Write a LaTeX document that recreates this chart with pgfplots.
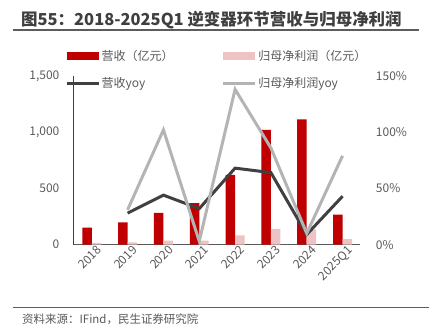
\documentclass[border=0pt]{standalone}
\usepackage{pgfplots}
\pgfplotsset{compat=1.18}
\usepackage{fontspec}
\setmainfont{Noto Sans CJK SC}
\definecolor{barred}{HTML}{C00000}
\definecolor{barpink}{HTML}{EDC3C3}
\definecolor{ldark}{HTML}{404040}
\definecolor{llight}{HTML}{B4B4B4}
\definecolor{txt}{HTML}{595959}
\definecolor{ttl}{HTML}{3F3F3F}

\pgfplotstableread{
x rev np
0 151 15
1 198 20
2 282 35
3 370 35
4 621 82
5 1021 140
6 1113 135
7 266 50
}\bars
\pgfplotstableread{
x ryoy npyoy
1 28 31
2 44 102
3 32 3
4 68 138
5 64 86
6 9 10
7 43 79
}\lines

\begin{document}
\begin{tikzpicture}[x=1bp,y=1bp]
\path (0,0) rectangle (430,336);
% title
\node[anchor=west, inner sep=0pt, text=ttl, font=\fontsize{16.5bp}{18bp}\selectfont\bfseries] at (21,316) {图55：2018-2025Q1 逆变器环节营收与归母净利润};
\draw[line width=1.3bp, color=ttl!85] (13,306) -- (420,306);
% footer
\draw[line width=1.3bp, color=ttl!85] (13,28.3) -- (430,28.3);
\node[anchor=west, inner sep=0pt, text=txt, font=\fontsize{11.5bp}{13bp}\selectfont] at (22,16) {资料来源：IFind，民生证券研究院};

\begin{axis}[
  at={(74bp,91bp)}, anchor=south west,
  scale only axis, width=287bp, height=169bp,
  xmin=-0.5, xmax=7.5, ymin=0, ymax=1500,
  axis x line*=bottom, axis y line*=left,
  x axis line style={color=txt, line width=1bp},
  y axis line style={color=ldark, line width=1bp},
  axis line style={-},
  xtick={0,...,7},
  xticklabels={2018,2019,2020,2021,2022,2023,2024,2025Q1},
  ytick={0,500,1000,1500},
  major tick length=0pt,
  tick style={draw=none},
  /pgf/number format/assume math mode=true,
  /pgf/number format/1000 sep={,},
  ticklabel style={text=txt, font=\fontsize{12bp}{13bp}\selectfont},
  yticklabel style={xshift=-11bp},
  xticklabel style={rotate=45, anchor=north east, inner sep=1bp, xshift=4bp, yshift=-2bp},
  legend columns=2,
  legend cell align=left,
  legend style={draw=none, fill=none, at={(-0.031,1.16)}, anchor=north west,
    font=\fontsize{12bp}{13bp}\selectfont, text=txt, inner sep=0pt, row sep=12bp,
    /tikz/every even column/.append style={column sep=47bp},
    nodes={inner sep=1.5bp}},
]
\addplot[ybar, bar width=9.5bp, bar shift=-4.75bp, fill=barred, draw=none,
  legend image code/.code={\fill[barred] (0bp,-4bp) rectangle (32bp,4bp);}]
  table[x=x, y=rev] {\bars};
\addlegendentry{营收（亿元）}
\addplot[ybar, bar width=9.5bp, bar shift=4.75bp, fill=barpink, draw=none,
  legend image code/.code={\fill[barpink] (0bp,-4bp) rectangle (32bp,4bp);}]
  table[x=x, y=np] {\bars};
\addlegendentry{归母净利润（亿元）}
\addlegendimage{color=ldark, line width=3bp, legend image code/.code={\draw[ldark, line width=3bp] (0bp,0bp) -- (32bp,0bp);}}
\addlegendentry{营收yoy}
\addlegendimage{color=llight, line width=3bp, legend image code/.code={\draw[llight, line width=3bp] (0bp,0bp) -- (32bp,0bp);}}
\addlegendentry{归母净利润yoy}
\end{axis}

\begin{axis}[
  at={(74bp,91bp)}, anchor=south west,
  scale only axis, width=287bp, height=169bp,
  xmin=-0.5, xmax=7.5, ymin=0, ymax=150,
  axis x line=none,
  axis y line*=right,
  y axis line style={draw=none},
  ytick={0,50,100,150},
  major tick length=0pt,
  tick style={draw=none},
  /pgf/number format/assume math mode=true,
  yticklabel={\pgfmathprintnumber{\tick}\%},
  yticklabel style={text=txt, font=\fontsize{12bp}{13bp}\selectfont, xshift=12bp},
]
\addplot[ldark, line width=3bp, line join=miter, mark=none] table[x=x, y=ryoy] {\lines};
\addplot[llight, line width=3bp, line join=miter, mark=none] table[x=x, y=npyoy] {\lines};
\end{axis}
\end{tikzpicture}
\end{document}
